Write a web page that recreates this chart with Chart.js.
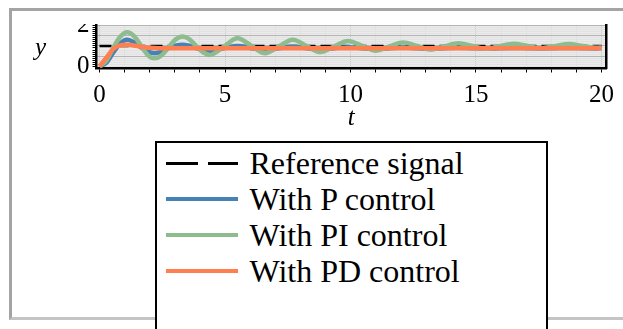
<!DOCTYPE html>
<html lang="en">
<head>
    <meta charset="UTF-8">
    <title>Step response</title>
    <script src="https://cdn.jsdelivr.net/npm/chart.js"></script>
    <style>
        body {
            margin: 0;
            background: #fff;
            overflow: hidden;
            font-family: "Liberation Serif", "DejaVu Serif", serif;
        }
        .page {
            position: relative;
            width: 623px;
            height: 329px;
            overflow: hidden;
        }
        .frame {
            position: absolute;
            left: 9px;
            top: 8px;
            width: 640px;
            height: 312px;
            box-sizing: border-box;
            border: 3px solid;
            border-color: #a4a4a4 #c4c4c4 #c4c4c4 #a4a4a4;
        }
        #plot {
            position: absolute;
            left: 0;
            top: 24px;
        }
        .ylabel {
            position: absolute;
            left: 35px;
            top: 34px;
            font-style: italic;
            font-size: 25px;
            line-height: 25px;
        }
        #legend {
            position: absolute;
            left: 155px;
            top: 141px;
            width: 393px;
            height: 220px;
            box-sizing: border-box;
            border: 2.5px solid #000;
            background: #fff;
            padding-top: 2px;
        }
        .item {
            display: flex;
            align-items: center;
            height: 36px;
            font-size: 32px;
            line-height: 36px;
            white-space: nowrap;
        }
        .sample {
            margin-left: 8.5px;
            margin-right: 12px;
            width: 72px;
            flex: none;
        }
    </style>
</head>
<body>
<div class="page">
    <div class="frame"></div>
    <canvas id="plot" width="623" height="109"></canvas>
    <span class="ylabel">y</span>
    <div id="legend"></div>
</div>

<script>
// time samples (peaks / troughs / mid-points)
const tValues = [0, 0.275, 0.55, 0.825, 1.1, 1.375, 1.65, 1.925, 2.2, 2.475, 2.75, 3.025, 3.3, 3.575, 3.85, 4.125, 4.4,
    4.95, 5.5, 6.05, 6.6, 7.15, 7.7, 8.25, 8.8, 9.35, 9.9, 10.45, 11.0, 11.55, 12.1, 12.65, 13.2, 13.75, 14.3,
    14.85, 15.4, 15.95, 16.5, 17.05, 17.6, 18.15, 18.7, 19.25, 19.8, 20];

const refSignal = tValues.map(() => 1);

const pControl = [0, 0.18, 0.68, 1.12, 1.30, 1.18, 0.93, 0.72, 0.64, 0.72, 0.89, 1.01, 1.06, 1.01, 0.90, 0.80, 0.76,
    0.89, 1.00, 0.89, 0.80, 0.89, 0.96, 0.89, 0.83, 0.89, 0.94, 0.89, 0.85, 0.89, 0.92, 0.89, 0.86, 0.89, 0.91,
    0.89, 0.87, 0.89, 0.90, 0.89, 0.88, 0.89, 0.90, 0.89, 0.88, 0.89];

const piControl = [0, 0.28, 0.92, 1.45, 1.67, 1.48, 1.02, 0.55, 0.39, 0.54, 0.93, 1.31, 1.46, 1.33, 1.00, 0.69, 0.56,
    0.97, 1.38, 1.01, 0.64, 0.98, 1.30, 1.00, 0.70, 0.98, 1.24, 1.01, 0.77, 0.98, 1.17, 1.00, 0.82, 0.98, 1.13,
    1.00, 0.86, 0.99, 1.11, 1.00, 0.89, 0.99, 1.09, 1.00, 0.91, 0.93];

const pdControl = [0, 0.42, 0.86, 1.03, 1.06, 1.02, 0.96, 0.92, 0.90, 0.89, 0.89, 0.89, 0.89, 0.89, 0.89, 0.89, 0.89,
    0.89, 0.89, 0.89, 0.89, 0.89, 0.89, 0.89, 0.89, 0.89, 0.89, 0.89, 0.89, 0.89, 0.89, 0.89, 0.89, 0.89, 0.89,
    0.89, 0.89, 0.89, 0.89, 0.89, 0.89, 0.89, 0.89, 0.89, 0.89, 0.89];

const seriesNames = ['Reference signal', 'With P control', 'With PI control', 'With PD control'];
const seriesColors = ['#000000', '#4682b4', '#8fbc8f', '#ff7f50'];

const xTickLabels = [0, 5, 10, 15, 20];
const yTickLabels = [0, 2];

const serif = '"Liberation Serif", "DejaVu Serif", serif';

function toPoints(values) {
    return tValues.map((t, i) => ({ x: t, y: values[i] }));
}

const plotBackground = {
    id: 'plotBackground',
    beforeDraw(chart) {
        const a = chart.chartArea;
        const ctx = chart.ctx;
        ctx.save();
        ctx.fillStyle = '#ebebeb';
        ctx.fillRect(a.left, a.top, a.right - a.left, a.bottom - a.top);
        ctx.restore();
    }
};

const lineDefaults = {
    pointRadius: 0,
    fill: false,
    cubicInterpolationMode: 'monotone',
    borderCapStyle: 'butt'
};

new Chart(document.getElementById('plot'), {
    type: 'line',
    data: {
        datasets: [
            { ...lineDefaults, label: seriesNames[0], data: toPoints(refSignal), borderColor: seriesColors[0], borderWidth: 2.5, borderDash: [12, 5], order: 4 },
            { ...lineDefaults, label: seriesNames[1], data: toPoints(pControl), borderColor: seriesColors[1], borderWidth: 4.5, order: 3 },
            { ...lineDefaults, label: seriesNames[2], data: toPoints(piControl), borderColor: seriesColors[2], borderWidth: 4.5, order: 2 },
            { ...lineDefaults, label: seriesNames[3], data: toPoints(pdControl), borderColor: seriesColors[3], borderWidth: 4.5, order: 1 }
        ]
    },
    options: {
        responsive: false,
        animation: false,
        layout: { padding: { left: 0, right: 16, top: 1.5, bottom: 0 } },
        plugins: {
            legend: { display: false },
            tooltip: { enabled: false }
        },
        scales: {
            x: {
                type: 'linear',
                min: -0.12,
                max: 20.18,
                afterBuildTicks: scale => {
                    const ticks = [];
                    for (let v = 0; v <= 20; v++) ticks.push({ value: v });
                    scale.ticks = ticks;
                },
                afterFit: scale => {
                    scale.height = 64.5;
                    scale.paddingLeft = 0;
                    scale.paddingRight = 0;
                },
                ticks: {
                    autoSkip: false,
                    maxRotation: 0,
                    color: '#000',
                    padding: 8,
                    font: { family: serif, size: 25 },
                    callback: v => xTickLabels.includes(v) ? String(v) : ''
                },
                grid: {
                    color: ctx => (ctx.tick && ctx.tick.value % 5 === 0) ? '#cfcfcf' : '#e0e0e0',
                    lineWidth: 1,
                    tickColor: '#000',
                    tickLength: 4
                },
                border: { color: '#000', width: 2.5 },
                title: {
                    display: true,
                    text: 't',
                    color: '#000',
                    padding: { top: 0, bottom: 0 },
                    font: { family: serif, size: 25, style: 'italic' }
                }
            },
            y: {
                type: 'linear',
                min: -0.108,
                max: 2.005,
                afterBuildTicks: scale => {
                    const ticks = [];
                    for (let i = 0; i <= 20; i++) ticks.push({ value: i / 10 });
                    scale.ticks = ticks;
                },
                afterFit: scale => {
                    scale.width = 96.5;
                    scale.paddingTop = 0;
                    scale.paddingBottom = 0;
                },
                ticks: {
                    autoSkip: false,
                    color: '#000',
                    padding: 3,
                    font: { family: serif, size: 25 },
                    callback: v => yTickLabels.some(l => Math.abs(l - v) < 1e-9) ? String(Math.round(v)) : ''
                },
                grid: {
                    color: ctx => {
                        const v = ctx.tick ? ctx.tick.value : 0;
                        return (v > 0 && Math.abs(v * 2 - Math.round(v * 2)) < 1e-9) ? '#b4b4b4' : '#e2e2e2';
                    },
                    lineWidth: 1,
                    tickColor: '#000',
                    tickLength: 4
                },
                border: { color: '#000', width: 2.5 }
            },
            y2: {
                type: 'linear',
                position: 'right',
                min: -0.108,
                max: 2.005,
                afterFit: scale => {
                    scale.width = 1;
                    scale.paddingTop = 0;
                    scale.paddingBottom = 0;
                },
                ticks: { display: false },
                grid: { drawOnChartArea: false, drawTicks: false },
                border: { color: '#000', width: 2.5 }
            }
        }
    },
    plugins: [plotBackground]
});

// legend below the plot
const legend = document.getElementById('legend');
seriesNames.forEach((name, i) => {
    const row = document.createElement('div');
    row.className = 'item';
    const sample = document.createElement('span');
    sample.className = 'sample';
    if (i === 0) {
        sample.style.height = '3px';
        sample.style.background = 'repeating-linear-gradient(to right, #000 0 32px, transparent 32px 42px)';
    } else {
        sample.style.height = '4px';
        sample.style.background = seriesColors[i];
    }
    const label = document.createElement('span');
    label.textContent = name;
    row.appendChild(sample);
    row.appendChild(label);
    legend.appendChild(row);
});
</script>
</body>
</html>
